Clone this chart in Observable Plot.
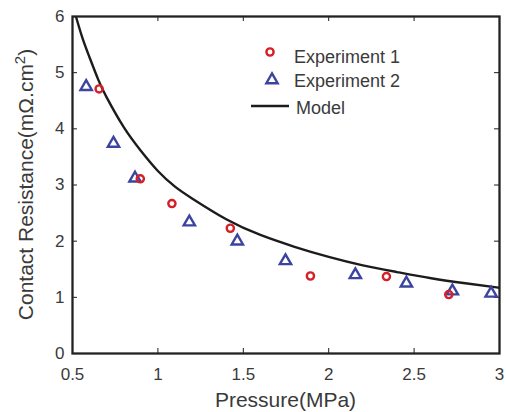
<!DOCTYPE html>
<html><head><meta charset="utf-8">
<script src="https://cdn.jsdelivr.net/npm/d3@7"></script>
<script src="https://cdn.jsdelivr.net/npm/@observablehq/plot@0.6"></script>
<style>body{margin:0;background:#fff}</style>
</head><body><div id="chart"></div>
<script>
const xTicks = [0.5, 1, 1.5, 2, 2.5, 3];
const yTicks = [0, 1, 2, 3, 4, 5, 6];
const exp1P = [0.656, 0.897, 1.082, 1.424, 1.893, 2.338, 2.703];
const exp1R = [4.71, 3.11, 2.67, 2.23, 1.38, 1.37, 1.05];
const exp2P = [0.580, 0.740, 0.866, 1.184, 1.465, 1.747, 2.156, 2.455, 2.724, 2.951];
const exp2R = [4.75, 3.74, 3.12, 2.34, 2.00, 1.65, 1.40, 1.25, 1.11, 1.07];
const modelP = [0.52, 0.56, 0.6, 0.65, 0.7, 0.8, 0.9, 1.0, 1.1, 1.2, 1.4, 1.6, 1.8, 2.0, 2.2, 2.4, 2.6, 2.8, 3.0];
const modelR = [6.0, 5.6, 5.27, 4.88, 4.56, 4.03, 3.61, 3.25, 2.97, 2.76, 2.39, 2.11, 1.90, 1.72, 1.57, 1.45, 1.34, 1.25, 1.17];
const legendLabels = ["Experiment 1", "Experiment 2", "Model"];

const exp1 = exp1P.map((p, i) => ({p, r: exp1R[i]}));
const exp2 = exp2P.map((p, i) => ({p, r: exp2R[i]}));
const model = modelP.map((p, i) => ({p, r: modelR[i]}));

const red = "#d42027", blue = "#3b45a0", ink = "#1c1c1c", txt = "#3a3a3a";
const font = "'Liberation Sans', Arial, sans-serif";
const W = 506, H = 412, mL = 72, mR = 7, mT = 16, mB = 59;
const innerH = H - mT - mB, innerW = W - mL - mR;
const triR = 4.2, cirR = 3.6, mkW = 2.4;

const chart = Plot.plot({
  width: W, height: H,
  marginLeft: mL, marginRight: mR, marginTop: mT, marginBottom: mB,
  style: {fontFamily: font, background: "#fff"},
  x: {domain: [0.5, 3]},
  y: {domain: [0, 6]},
  marks: [
    Plot.axisX(xTicks, {anchor: "bottom", tickSize: 0, tickPadding: 14, fontSize: 17, fill: txt, label: null, tickFormat: d => String(d)}),
    Plot.axisY(yTicks, {anchor: "left", tickSize: 0, tickPadding: 8, fontSize: 17, fill: txt, label: null, tickFormat: d => String(d)}),
    Plot.tickX(xTicks, {x: d => d, insetTop: innerH - 5, stroke: ink, strokeWidth: 1}),
    Plot.tickX(xTicks, {x: d => d, insetBottom: innerH - 5, stroke: ink, strokeWidth: 1}),
    Plot.tickY(yTicks, {y: d => d, insetRight: innerW - 5, stroke: ink, strokeWidth: 1}),
    Plot.tickY(yTicks, {y: d => d, insetLeft: innerW - 5, stroke: ink, strokeWidth: 1}),
    Plot.line(model, {x: "p", y: "r", stroke: ink, strokeWidth: 2.4, curve: "natural", clip: true}),
    Plot.dot(exp2, {x: "p", y: "r", symbol: "triangle", r: triR, stroke: blue, strokeWidth: mkW, fill: "none"}),
    Plot.dot(exp1, {x: "p", y: "r", symbol: "circle", r: cirR, stroke: red, strokeWidth: mkW, fill: "none"}),
    Plot.frame({stroke: "#222", strokeWidth: 2.3})
  ]
});
document.getElementById("chart").appendChild(chart);

const svg = d3.select(chart);
// y label with superscript
const yl = svg.append("text")
  .attr("transform", `translate(33,${mT + innerH / 2}) rotate(-90)`)
  .attr("text-anchor", "middle")
  .attr("font-size", 21).attr("fill", txt).attr("font-family", font);
yl.append("tspan").text("Contact Resistance(mΩ.cm");
yl.append("tspan").attr("font-size", 15).attr("dy", -8).text("2");
yl.append("tspan").attr("dy", 8).text(")");
// x label
svg.append("text")
  .attr("x", mL + innerW / 2).attr("y", 407)
  .attr("text-anchor", "middle")
  .attr("font-size", 21).attr("fill", txt).attr("font-family", font)
  .text("Pressure(MPa)");
// legend
const lg = svg.append("g").attr("font-family", font)
  .attr("font-size", 18).attr("fill", txt).attr("text-anchor", "start");
lg.append("circle").attr("cx", 270).attr("cy", 52).attr("r", cirR)
  .attr("fill", "none").attr("stroke", red).attr("stroke-width", mkW);
lg.append("path").attr("d", d3.symbol(d3.symbolTriangle, Math.PI * triR * triR)())
  .attr("transform", "translate(272,80)")
  .attr("fill", "none").attr("stroke", blue).attr("stroke-width", mkW);
lg.append("line").attr("x1", 251).attr("x2", 289).attr("y1", 106).attr("y2", 106)
  .attr("stroke", ink).attr("stroke-width", 2.4);
[[294, 63], [294, 87], [296, 114]].forEach(([x, y], i) => {
  lg.append("text").attr("x", x).attr("y", y).attr("text-anchor", "start").text(legendLabels[i]);
});
</script></body></html>
